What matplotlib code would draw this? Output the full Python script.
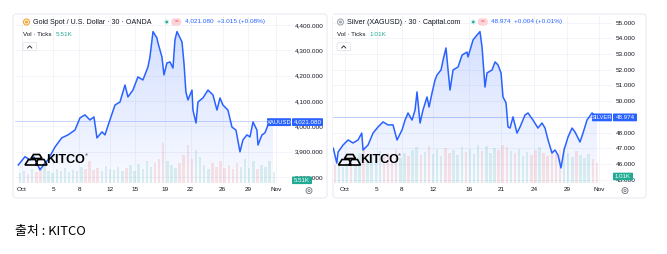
import numpy as np
import matplotlib.pyplot as plt
from matplotlib.patches import Circle, FancyBboxPatch, Polygon
from matplotlib.transforms import Affine2D
from matplotlib.lines import Line2D

plt.rcParams['font.family'] = ['Liberation Sans', 'DejaVu Sans']

# gold spot, 30 min chart (x = chart time in days from Oct 1)
gold_day = [-0.45, 0.37, 0.98, 1.47, 2.20, 2.81, 3.17, 4.03, 4.85, 5.62, 6.47, 7.08, 7.69, 8.30, 8.79,
            9.16, 9.77, 10.13, 10.74, 11.36, 11.97, 12.58, 12.94, 13.55, 14.16, 14.77, 15.38, 15.63,
            16.00, 16.48, 16.61, 17.09, 17.34, 17.70, 18.07, 18.44, 18.68, 18.93, 19.54, 19.78, 20.02,
            20.27, 20.76, 20.88, 21.25, 21.49, 22.10, 22.71, 23.32, 23.81, 24.18, 24.54, 25.15, 25.64,
            26.13, 26.62, 26.98, 27.47, 27.84, 28.21, 28.69, 28.82, 29.30, 29.67, 30.04, 30.65]
gold_price = [3847, 3880, 3867, 3879, 3828, 3855, 3867, 3918, 3954, 3966, 3985, 4033, 4045, 4025, 4037,
              3954, 3978, 3966, 4025, 4084, 4096, 4163, 4116, 4143, 4195, 4183, 4234, 4274,
              4374, 4349, 4329, 4274, 4203, 4250, 4254, 4230, 4341, 4374, 4333, 4250, 4135,
              4104, 4143, 4064, 4013, 4096, 4112, 4143, 4124, 4064, 4112, 4084, 4064, 3997,
              3985, 3899, 3946, 3966, 3958, 4017, 3985, 3926, 3966, 3974, 4005, 4021.08]
# volume (K ticks) per half day, from day -0.5
gold_vol = [5.0, 6.0, 4.5, 7.0, 5.5, 8.0, 10.0, 6.0, 5.0, 7.0, 6.0, 7.5, 5.5, 6.5, 6.0, 8.0, 7.0, 11.0,
            6.5, 7.5, 6.0, 8.5, 7.0, 6.5, 8.0, 6.0, 7.5, 9.0, 6.0, 9.5, 7.0, 11.0, 8.0, 10.0, 12.0, 20.0,
            11.0, 9.0, 7.5, 10.0, 14.0, 19.0, 12.0, 16.5, 13.0, 9.0, 7.0, 10.0, 8.0, 11.0, 7.5, 9.0,
            7.0, 10.0, 8.0, 12.0, 7.5, 11.0, 7.0, 9.0, 8.0, 11.0, 5.51]
gold_levels = [3800, 3900, 4000, 4100, 4200, 4300, 4400]
gold_ticks = [0, 3.8, 7.0, 10.7, 13.8, 17.5, 20.6, 24.5, 27.6, 31.0]
gold_ticklabels = ['Oct', '5', '8', '12', '15', '19', '22', '26', '29', 'Nov']

# silver XAGUSD, 30 min chart
silver_day = [-1.43, -1.01, -0.85, -0.24, 0.37, 0.98, 1.59, 2.04, 2.20, 2.81, 3.42, 4.03, 4.64, 5.25,
              5.86, 6.35, 6.96, 7.33, 7.69, 8.18, 8.55, 8.79, 9.16, 9.52, 10.01, 10.26, 10.62, 10.99,
              11.23, 11.72, 11.97, 12.33, 12.58, 12.82, 13.19, 13.80, 14.29, 14.90, 15.02, 15.63,
              16.12, 16.48, 16.73, 17.09, 17.34, 17.95, 18.32, 18.68, 19.05, 19.29, 19.66, 19.90,
              20.15, 20.51, 21.00, 21.37, 21.98, 22.34, 22.95, 23.56, 24.05, 24.42, 24.79, 25.27,
              25.64, 26.01, 26.37, 26.74, 27.23, 27.72, 28.08, 28.69, 29.06, 29.55, 30.16, 30.80]
silver_price = [47.00, 46.06, 46.76, 47.21, 47.53, 47.34, 47.53, 47.97, 46.89, 47.21, 47.97, 48.36,
                48.68, 48.49, 48.49, 47.53, 48.17, 48.80, 49.25, 48.80, 49.44, 50.59, 48.61, 49.44,
                50.27, 49.63, 50.52, 51.35, 51.67, 51.99, 52.62, 53.39, 51.99, 50.71, 51.99, 52.18,
                52.94, 53.13, 52.82, 53.90, 54.22, 54.43, 53.45, 50.90, 51.80, 51.99, 52.50, 52.31,
                51.80, 50.27, 49.89, 48.36, 48.29, 49.00, 47.97, 48.36, 49.12, 49.25, 48.80, 48.29,
                48.61, 48.29, 47.53, 46.70, 46.89, 46.57, 45.75, 46.89, 47.72, 48.29, 48.04, 47.40,
                47.97, 48.80, 49.25, 48.974]
# volume (K ticks) per half day, from day -1.5
silver_vol = [0.90, 1.10, 0.80, 1.00, 1.30, 0.90, 1.50, 1.80, 1.10, 1.40, 1.20, 1.60, 1.30, 1.50, 1.10,
              1.70, 1.25, 1.50, 1.35, 1.65, 1.80, 1.40, 1.55, 1.85, 1.45, 1.70, 1.35, 1.75, 1.50,
              1.65, 1.40, 1.80, 1.55, 1.70, 1.45, 1.90, 1.60, 1.85, 1.50, 1.75, 1.65, 1.90, 1.80,
              1.60, 1.50, 1.70, 1.35, 1.55, 1.40, 1.65, 1.80, 1.50, 1.35, 1.70, 1.45, 1.65, 1.80,
              1.50, 1.30, 1.60, 1.40, 1.25, 1.45, 1.20, 1.01]
silver_levels = [45, 46, 47, 48, 49, 50, 51, 52, 53, 54, 55]
silver_ticks = [0, 3.9, 6.9, 10.7, 15.1, 19.1, 23.1, 27.1, 31.0]
silver_ticklabels = ['Oct', '5', '8', '12', '16', '21', '24', '29', 'Nov']

BLUE = '#2962ff'
TXT = '#131722'
UP, DOWN = '#26a69a', '#ef5350'

W, H = 667, 254
fig = plt.figure(figsize=(W / 100, H / 100), dpi=100)
# pixel coords measured from the top-left corner
pix = Affine2D().scale(1, -1).translate(0, H).scale(1 / 100) + fig.dpi_scale_trans


def panel(x0, x1, day, price, vol, vol_start, vol_span, xlim, ylim, levels, fmt, ticks, ticklabels):
    ax = fig.add_axes([x0 / W, 1 - 183 / H, (x1 - x0) / W, 168 / H])
    ax.set_facecolor('white')
    for s in ax.spines.values():
        s.set_visible(False)
    day = np.asarray(day, float)
    price = np.asarray(price, float)
    lo, hi = ylim

    # volume bars at the bottom, coloured by the move over each bin
    vol = np.asarray(vol, float)
    vstart = vol_start + 0.5 * np.arange(len(vol))
    p0 = np.interp(vstart, day, price)
    p1 = np.interp(vstart + 0.5, day, price)
    cols = [DOWN if b < a else UP for a, b in zip(p0, p1)]
    ax.bar(vstart + 0.25, vol / vol_span * (hi - lo), width=0.3, bottom=lo,
           color=cols, alpha=0.15, linewidth=0, zorder=2)

    # gradient area under the line
    poly = ax.fill_between(day, price, lo, color='none')
    rgb = np.array([0x29, 0x62, 0xff]) / 255
    grad = np.zeros((100, 1, 4))
    grad[:, 0, :3] = rgb
    grad[:, 0, 3] = np.linspace(0.03, 0.2, 100)
    im = ax.imshow(grad, aspect='auto', origin='lower', zorder=1,
                   extent=[day[0], day[-1], lo, price.max()])
    im.set_clip_path(poly.get_paths()[0], transform=ax.transData)

    ax.plot(day, price, color=BLUE, lw=1.1, zorder=4, solid_joinstyle='round')
    ax.axhline(price[-1], color=BLUE, lw=0.6, alpha=0.3, zorder=3)

    ax.set_xlim(*xlim)
    ax.set_ylim(lo, hi)
    ax.set_xticks(ticks)
    ax.set_xticklabels(ticklabels)
    ax.set_yticks(levels)
    ax.set_yticklabels([fmt.format(v) for v in levels])
    ax.yaxis.tick_right()
    ax.tick_params(axis='both', length=0, labelsize=4.6, labelcolor=TXT)
    ax.tick_params(axis='x', pad=3.2)
    ax.tick_params(axis='y', pad=3)
    ax.grid(True, color='#f0f3fa', lw=0.6, zorder=0)
    ax.set_axisbelow(True)
    return ax


panel(15, 291, gold_day, gold_price, gold_vol, -0.5, 84.0, (-0.85, 32.85), (3776, 4439.5),
      gold_levels, '{:,.3f}', gold_ticks, gold_ticklabels)
panel(333, 612, silver_day, silver_price, silver_vol, -1.5, 8.4, (-1.47, 32.6), (44.79, 55.49),
      silver_levels, '{:.3f}', silver_ticks, silver_ticklabels)


def T(x, y, s, **kw):
    kw.setdefault('fontsize', 5)
    kw.setdefault('color', TXT)
    kw.setdefault('va', 'center')
    fig.text(x, y, s, transform=pix, **kw)


def box(x, y, w, h, fc, ec='none', r=1.0, lw=0.6, z=5):
    fig.add_artist(FancyBboxPatch((x, y), w, h, boxstyle=f'round,pad=0,rounding_size={r}',
                                  transform=pix, fc=fc, ec=ec, lw=lw, zorder=z))


def header(x, title, icon_col, price_txt, vol_txt, vol_x, dot_x):
    fig.add_artist(Circle((x - 6.5, 22), 3.6, transform=pix, fc=icon_col, ec='none', zorder=5))
    fig.add_artist(Circle((x - 6.5, 22), 2.0, transform=pix, fc='none', ec='white', lw=0.6, zorder=6))
    T(x, 22, title, fontsize=5.1)
    fig.add_artist(Circle((dot_x, 22), 2.6, transform=pix, fc='#d8f0ea', ec='none', zorder=5))
    fig.add_artist(Circle((dot_x, 22), 1.3, transform=pix, fc=UP, ec='none', zorder=6))
    box(dot_x + 4.5, 18.3, 10, 7.4, '#fbd3d9', r=3.5)
    T(dot_x + 9.5, 22, '=', fontsize=4.5, color='#f23645', ha='center', zorder=7)
    T(dot_x + 18, 22, price_txt, fontsize=4.6, color=BLUE)
    T(x - 10, 34.3, 'Vol · Ticks', fontsize=4.5)
    T(vol_x, 34.3, vol_txt, fontsize=4.6, color='#22ab94')
    box(x - 10, 42.7, 13.5, 8, 'white', ec='#e0e3eb')
    fig.add_artist(Line2D([x - 5.4, x - 3.3, x - 1.2], [48, 45.8, 48], transform=pix,
                          color=TXT, lw=0.6, zorder=6))


def price_tags(x, name, nw, price_txt, pw, y, vol_txt, vy, gear_x):
    box(x, y, nw, 7.8, BLUE, r=0.8, z=8)
    T(x + nw / 2, y + 4, name, fontsize=4.2, color='white', ha='center', zorder=9)
    box(x + nw + 1, y, pw, 7.8, BLUE, r=0.8, z=8)
    T(x + nw + 1 + pw / 2, y + 4, price_txt, fontsize=4.5, color='white', ha='center', zorder=9)
    box(x + nw + 1, vy, 20, 7.6, '#22ab94', r=0.8, z=8)
    T(x + nw + 11, vy + 3.9, vol_txt, fontsize=4.4, color='white', ha='center', zorder=9)
    fig.add_artist(Circle((gear_x, 190.6), 3.0, transform=pix, fc='none', ec='#6a6d78', lw=0.6))
    fig.add_artist(Circle((gear_x, 190.6), 1.1, transform=pix, fc='none', ec='#6a6d78', lw=0.5))


def kitco(x):
    # stacked gold bars outline + wordmark
    shapes = [[(x + 6, 158.5), (x + 8.5, 154.5), (x + 14.5, 154.5), (x + 17, 158.5)],
              [(x, 165), (x + 3.5, 159.5), (x + 10.5, 159.5), (x + 12.5, 165)],
              [(x + 10.5, 165), (x + 13, 159.5), (x + 19, 159.5), (x + 22, 165)]]
    for s in shapes:
        fig.add_artist(Polygon(s, closed=True, transform=pix, fc='none', ec='black', lw=1.2, zorder=7))
    T(x + 21.5, 160.2, 'KITCO', fontsize=9.0, color='black', fontweight='bold', zorder=7)
    T(x + 59.5, 155.5, '®', fontsize=3, color='black', zorder=7)


# panel frames
box(13, 14, 314, 184, 'none', ec='#e6e8ee', r=3, lw=0.7, z=0)
box(333, 14, 313, 184, 'none', ec='#e6e8ee', r=3, lw=0.7, z=0)

header(33, 'Gold Spot / U.S. Dollar · 30 · OANDA', '#f2a93b', '4,021.080  +3.015 (+0.08%)',
       '5.51K', 55.5, 166.7)
header(347, 'Silver (XAGUSD) · 30 · Capital.com', '#a7abb5', '48.974  +0.004 (+0.01%)',
       '1.01K', 369.5, 473.3)

price_tags(267, 'XAUUSD', 24, '4,021.080', 31, 118.2, '5.51K', 176.5, 309)
price_tags(592, 'SILVER', 20, '48.974', 24, 113.5, '1.01K', 172.7, 625)

kitco(25)
kitco(338.5)

fig.text(15 / W, 1 - 231 / H, '출처 : KITCO', fontsize=9.3, color='black', va='center',
         family=['Noto Sans CJK KR', 'DejaVu Sans'])

fig.savefig('out.png', dpi=100, facecolor='white')
